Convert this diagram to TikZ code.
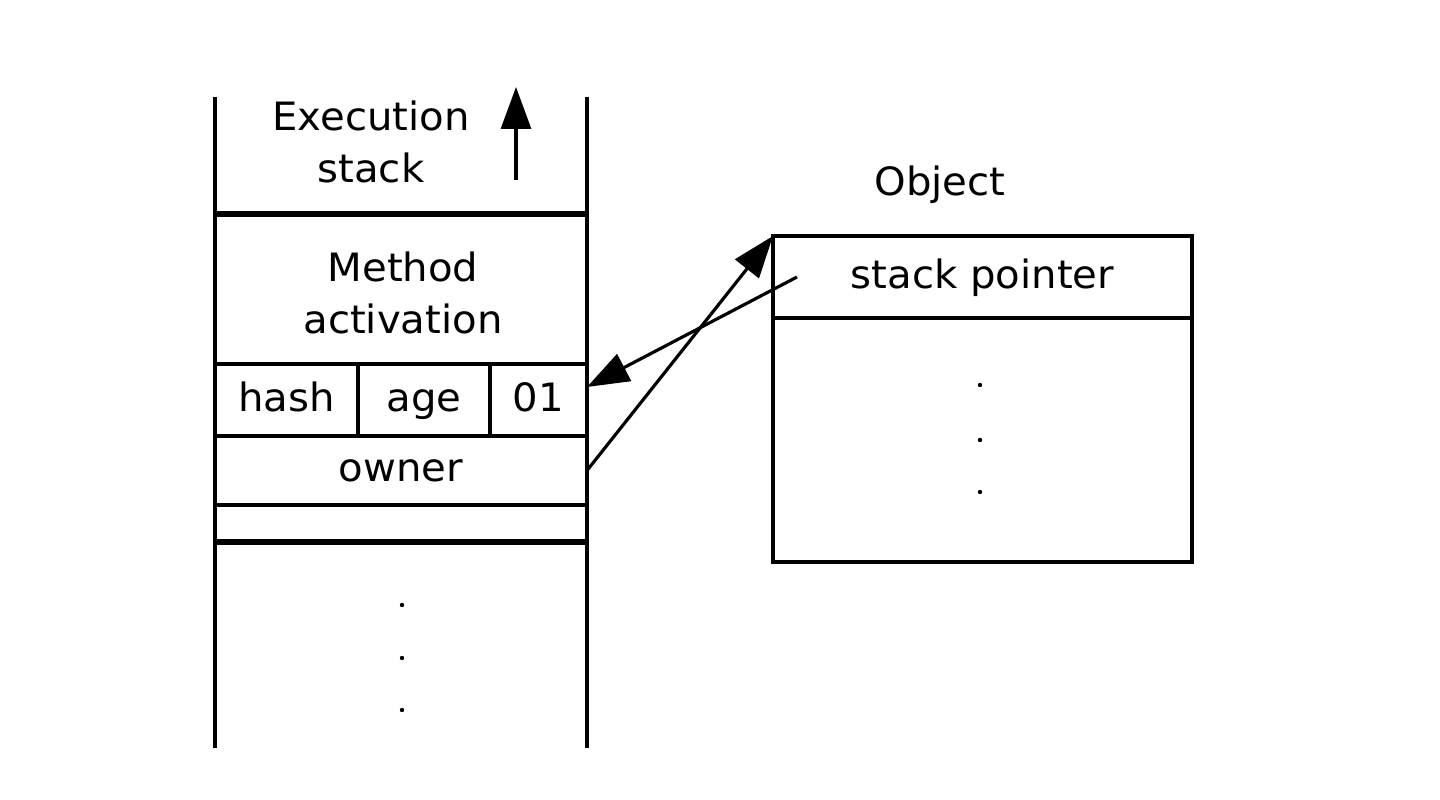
\documentclass[tikz,border=0pt]{standalone}
\usepackage{fontspec}
\setmainfont{DejaVu Sans}[FakeStretch=1.03]
\usetikzlibrary{arrows.meta,calc,positioning}
\tikzstyle{cell} = [rectangle, draw, line width=0.9pt, text centered, inner sep=0pt, outer sep=0pt, minimum height=0.72cm, text height=1.6ex, text depth=0.45ex]
\tikzstyle{label} = [align=center, inner sep=0pt]
\tikzstyle{ptr} = [-{Triangle[length=0.42cm,width=0.3cm]}, line width=0.9pt]
\tikzstyle{thick rule} = [line width=1.8pt]
\tikzstyle{side} = [line width=0.9pt]

\begin{document}
\begin{tikzpicture}[font=\fontsize{11.1pt}{15pt}\selectfont]
\useasboundingbox (0,0) rectangle (14.4,-8);
% header cells of the stack
\node[cell, minimum width=1.43cm] (hash) at (2.865,-4.00) {hash};
\node[cell, minimum width=1.32cm, right of=hash, node distance=1.375cm] (age) {age};
\node[cell, minimum width=0.97cm, right of=age, node distance=1.145cm] (c01) {01};
\node[cell, minimum width=3.72cm, minimum height=0.69cm] (owner) at (4.01,-4.705) {owner};
\node[cell, minimum width=3.72cm, minimum height=0.37cm, text height=0pt, text depth=0pt] (spare) at (4.01,-5.235) {};
\node[label] (method) at (4.03,-2.93) {Method\\activation};
\node[label] (exec) at (3.71,-1.42) {Execution\\stack};

% stack frame
\coordinate (tl) at (2.15,-0.97);
\coordinate (tr) at (5.87,-0.97);
\draw[side] (tl) -- (2.15,-7.48);
\draw[side] (tr) -- (5.87,-7.48);
\draw[thick rule] (2.15,-2.14) -- (5.87,-2.14);
\draw[thick rule] (2.15,-5.42) -- (5.87,-5.42);
\draw[ptr] (5.16,-1.80) -- (5.16,-0.87);
\foreach \y in {6.05,6.58,7.10}
  \fill (4.02,-\y) circle (0.022);

% object
\node[label] (objlabel) at (9.40,-1.85) {Object};
\node[cell, minimum width=4.19cm, minimum height=0.82cm] (sp) at (9.825,-2.77) {stack pointer};
\node[cell, minimum width=4.19cm, minimum height=2.44cm, text height=0pt, text depth=0pt, below=0pt of sp] (body) {};
\foreach \y in {3.85,4.40,4.92}
  \fill (9.80,-\y) circle (0.022);

% pointers
\coordinate (spstart) at ($(sp.west)+(0.24,0)$);
\coordinate (hdr) at ($(c01.east)+(0,0.13)$);
\draw[ptr] (owner.east) -- (sp.north west);
\draw[ptr] (spstart) -- (hdr);
\end{tikzpicture}
\end{document}
